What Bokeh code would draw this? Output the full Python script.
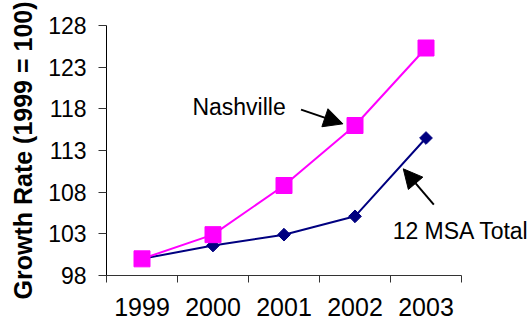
import math
from bokeh.plotting import figure
from bokeh.models import (Range1d, FixedTicker, Arrow, NormalHead, Label, ColumnDataSource)
from bokeh.embed import file_html
from bokeh.resources import INLINE

years = ["1999", "2000", "2001", "2002", "2003"]
nashville = [100.0, 102.9, 108.8, 116.0, 125.3]
msa_total = [100.0, 101.6, 102.9, 105.1, 114.5]
y_ticks = [98, 103, 108, 113, 118, 123, 128]

# annotation positions (x in category units, 0..5; y in data units)
nash_label = (1.21, 118.2, "Nashville")
nash_arrow = (2.74, 117.9, 3.33, 116.2)
msa_label = (4.03, 103.4, "12 MSA Total")
msa_arrow = (4.61, 106.5, 4.18, 110.8)

xs = [i + 0.5 for i in range(len(years))]
n = len(years)

FONT = "Liberation Sans"

# frame spans to right edge so the right-hand label is not clipped; axis line bounded to 0..n
x_end = n * (529 - 106) / (461 - 106)

p = figure(width=529, height=322, output_backend="svg", toolbar_location=None,
           x_range=Range1d(0, x_end), y_range=Range1d(98, 128),
           min_border_left=106, min_border_right=0, min_border_top=25, min_border_bottom=47)
p.outline_line_color = None
p.grid.grid_line_color = None
p.background_fill_color = "white"
p.border_fill_color = "white"

# x axis
p.xaxis.bounds = (0, n)
p.xaxis.ticker = FixedTicker(ticks=xs, minor_ticks=list(range(n + 1)))
p.xaxis.major_label_overrides = {x: y for x, y in zip(xs, years)}
p.xaxis.major_tick_line_color = None
p.xaxis.minor_tick_line_color = "#333333"
p.xaxis.minor_tick_out = 7
p.xaxis.minor_tick_in = 0
p.xaxis.axis_line_color = "#333333"
p.xaxis.major_label_text_font = FONT
p.xaxis.major_label_text_font_size = "25px"
p.xaxis.major_label_text_color = "black"
p.xaxis.major_label_standoff = 15

# y axis
p.yaxis.ticker = FixedTicker(ticks=y_ticks, minor_ticks=[])
p.yaxis.major_tick_out = 8
p.yaxis.major_tick_in = 0
p.yaxis.major_tick_line_color = "#333333"
p.yaxis.axis_line_color = "black"
p.yaxis.major_label_text_font = FONT
p.yaxis.major_label_text_font_size = "23px"
p.yaxis.major_label_text_color = "black"
p.yaxis.major_label_standoff = 12
p.yaxis.axis_label = "Growth Rate (1999 = 100)"
p.yaxis.axis_label_text_font = FONT
p.yaxis.axis_label_text_font_style = "bold"
p.yaxis.axis_label_text_font_size = "25px"
p.yaxis.axis_label_text_color = "black"
p.yaxis.axis_label_standoff = 8

src = ColumnDataSource(dict(x=xs, nash=nashville, msa=msa_total))

p.line("x", "msa", source=src, line_color="#000080", line_width=2)
p.scatter("x", "msa", source=src, marker="square", size=9, angle=math.pi / 4,
          fill_color="#000080", line_color="#000080")
p.line("x", "nash", source=src, line_color="#FF00FF", line_width=2)
p.scatter("x", "nash", source=src, marker="square", size=16,
          fill_color="#FF00FF", line_color="#FF00FF")

for (x0, y0, x1, y1) in [nash_arrow, msa_arrow]:
    p.add_layout(Arrow(x_start=x0, y_start=y0, x_end=x1, y_end=y1, line_width=2,
                       line_color="black",
                       end=NormalHead(size=19, fill_color="black", line_color="black")))

for (lx, ly, txt) in [nash_label, msa_label]:
    p.add_layout(Label(x=lx, y=ly, text=txt, text_font=FONT, text_font_size="23px",
                       text_color="black", text_baseline="middle", text_align="left"))

open("out.html", "w").write(file_html(p, INLINE))
